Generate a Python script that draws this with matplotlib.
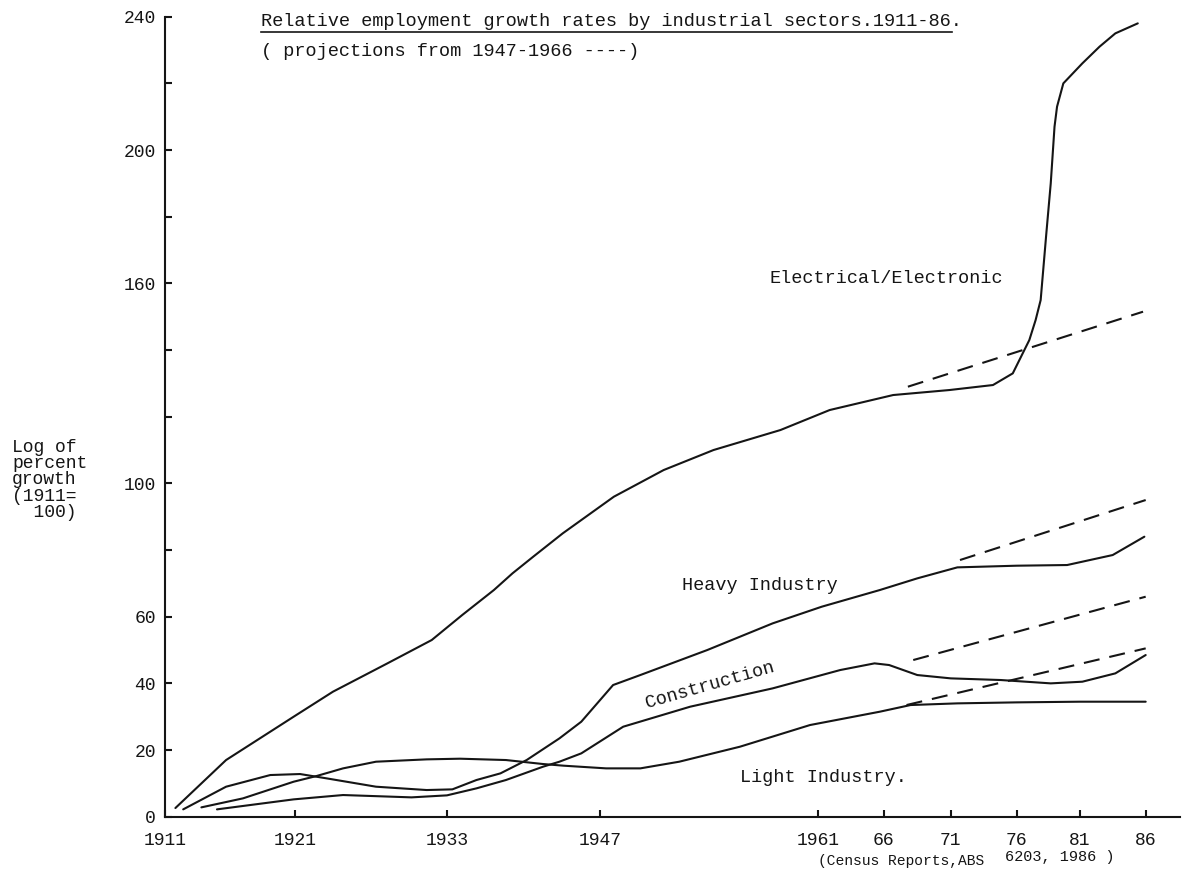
import matplotlib
matplotlib.use("Agg")
import matplotlib.pyplot as plt
import numpy as np
from matplotlib.lines import Line2D
from matplotlib.transforms import IdentityTransform

plt.rcParams["font.family"] = ["Liberation Mono", "DejaVu Sans Mono"]

# --- data ---
tick_years = [1911, 1921, 1933, 1947, 1961, 1966, 1971, 1976, 1981, 1986]
tick_labels = ["1911", "1921", "1933", "1947", "1961", "66", "71", "76", "81", "86"]
# the hand-drawn axis is not even in time: spacing of the ticks as drawn
tick_spacing = [0, 130, 282, 435, 653, 719, 786, 852, 915, 981]

y_ticks = list(range(0, 241, 20))
y_labelled = [0, 20, 40, 60, 100, 160, 200, 240]

elec_years = [1911.8, 1915.7, 1920.9, 1924.0, 1928.3, 1931.8, 1934.4, 1937.3, 1939.0,
              1940.9, 1943.6, 1947.9, 1951.1, 1954.3, 1958.6, 1961.9, 1966.7, 1970.9,
              1974.2, 1975.7, 1977.0, 1977.5, 1977.9, 1978.35, 1978.7, 1979.0, 1979.2,
              1979.7, 1981.2, 1982.5, 1983.7, 1985.4]
elec_vals = [2.6, 17, 30, 37.5, 46, 53, 60.5, 68, 73,
             78, 85, 96, 104, 110, 116, 122, 126.5, 128,
             129.5, 133, 143, 149, 155, 175, 190, 207, 213,
             220, 226, 231, 235, 238]

heavy_years = [1912.4, 1915.7, 1919.1, 1921.4, 1923.5, 1927.4, 1931.4, 1933.5, 1935.7,
               1937.9, 1940.3, 1943.3, 1945.3, 1947.85, 1949.6, 1953.9, 1958.1, 1961.3,
               1965.7, 1968.5, 1971.5, 1976.0, 1980.0, 1983.5, 1985.9]
heavy_vals = [2.2, 9, 12.5, 12.8, 11.5, 9, 8, 8.2, 11,
              13, 17, 23.5, 28.5, 39.5, 42.5, 50, 58, 63,
              68, 71.5, 74.8, 75.3, 75.5, 78.5, 84]

cons_years = [1915.0, 1920.9, 1924.8, 1930.2, 1933.0, 1935.7, 1938.4, 1941.8, 1943.3,
              1945.3, 1948.5, 1952.8, 1958.1, 1962.7, 1965.3, 1966.4, 1968.5, 1971.0,
              1974.8, 1978.7, 1981.2, 1983.7, 1986.0]
cons_vals = [2.2, 5.2, 6.5, 5.8, 6.4, 8.5, 11, 15, 16.5,
             19, 27, 33, 38.5, 44, 46, 45.5, 42.5, 41.5,
             41, 40, 40.5, 43, 48.5]

light_years = [1913.8, 1917.0, 1920.9, 1922.7, 1924.8, 1927.4, 1931.4, 1934.2, 1938.4,
               1941.8, 1943.7, 1947.4, 1949.6, 1952.1, 1956.0, 1960.5, 1965.7, 1968.0,
               1971.5, 1976.0, 1981.0, 1986.0]
light_vals = [2.8, 5.5, 10.5, 12.2, 14.5, 16.5, 17.2, 17.4, 17.0,
              15.8, 15.3, 14.5, 14.5, 16.5, 21, 27.5, 31.5, 33.5,
              34, 34.3, 34.5, 34.5]

# projections from 1947-1966 trends (dashed)
elec_proj_years, elec_proj_vals = [1967.8, 1985.8], [129, 151.5]
heavy_proj_years, heavy_proj_vals = [1971.7, 1986.0], [77, 95]
cons_proj_years, cons_proj_vals = [1968.2, 1986.0], [47, 66]
light_proj_years, light_proj_vals = [1967.7, 1986.0], [33.5, 50.5]

# --- piecewise linear time axis, as drawn ---
ext_years = [1900] + tick_years + [1995]
ext_pos = [-143] + tick_spacing + [981 + 9 * 13.2]


def fwd(x):
    return np.interp(x, ext_years, ext_pos)


def inv(p):
    return np.interp(p, ext_pos, ext_years)


fig = plt.figure(figsize=(11.85, 8.75), dpi=100)
ax = fig.add_axes([165 / 1185, 1 - 816.7 / 875, 1015 / 1185, 800 / 875])
ax.set_xscale("function", functions=(fwd, inv))

ink = "#151515"
lw = 1.5
for yrs, vals in [(elec_years, elec_vals), (heavy_years, heavy_vals),
                  (cons_years, cons_vals), (light_years, light_vals)]:
    ax.plot(yrs, vals, color=ink, lw=lw, solid_capstyle="round", solid_joinstyle="round")

for yrs, vals in [(elec_proj_years, elec_proj_vals), (heavy_proj_years, heavy_proj_vals),
                  (cons_proj_years, cons_proj_vals), (light_proj_years, light_proj_vals)]:
    ax.plot(yrs, vals, color=ink, lw=lw, dashes=(7.7, 4.8))

ax.set_xlim(1911, 1988.6)
ax.set_ylim(0, 240)

for s in ["top", "right"]:
    ax.spines[s].set_visible(False)
for s in ["left", "bottom"]:
    ax.spines[s].set_linewidth(1.5)
    ax.spines[s].set_color(ink)

ax.set_xticks(tick_years)
ax.set_xticklabels(tick_labels)
ax.set_xticks([], minor=True)
ax.set_yticks(y_ticks)
ax.set_yticklabels([str(v) if v in y_labelled else "" for v in y_ticks])
ax.tick_params(axis="both", direction="in", length=5, width=1.5, color=ink,
               labelsize=13, labelcolor=ink)
ax.tick_params(axis="y", pad=6.5)
ax.tick_params(axis="x", pad=11)

# series labels
fs = 13.3
ax.text(1957.9, 161.5, "Electrical/Electronic", fontsize=fs, color=ink, va="center")
ax.text(1952.3, 69.5, "Heavy Industry", fontsize=fs, color=ink, va="center")
ax.text(1954.1, 39.5, "Construction", fontsize=fs, color=ink, rotation=16,
        ha="center", va="center", rotation_mode="anchor")
ax.text(1956.0, 11.9, "Light Industry.", fontsize=fs, color=ink, va="center")

# y label
fig.text(12 / 1185, 1 - 480 / 875, "Log of\npercent\ngrowth\n(1911=\n  100)",
         fontsize=13, color=ink, ha="left", va="center", linespacing=0.93)

# source note
fig.text(818 / 1185, 1 - 861 / 875, "(Census Reports,ABS", fontsize=10.5, color=ink,
         ha="left", va="center")
fig.text(1005 / 1185, 1 - 857 / 875, "6203, 1986 )", fontsize=11, color=ink,
         ha="left", va="center")

# title and subtitle
title = fig.text(261 / 1185, 1 - 22 / 875,
                 "Relative employment growth rates by industrial sectors.1911-86.",
                 fontsize=13.4, color=ink, ha="left", va="center")
fig.text(261 / 1185, 1 - 52 / 875, "( projections from 1947-1966 ----)",
         fontsize=13.4, color=ink, ha="left", va="center")

fig.canvas.draw()
bb = title.get_window_extent()
fig.add_artist(Line2D([bb.x0, bb.x1 - 10], [bb.y0 - 1, bb.y0 - 1], color=ink, lw=1.2,
                      transform=IdentityTransform()))

fig.savefig("out.png", dpi=100, facecolor="white")
